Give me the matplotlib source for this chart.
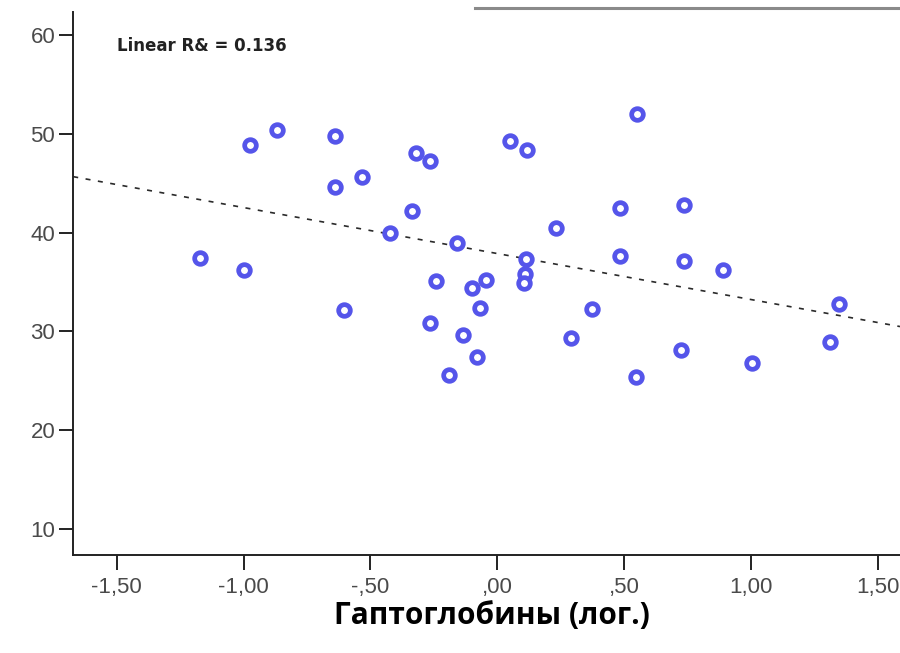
import numpy as np
import matplotlib
matplotlib.use("Agg")
import matplotlib.pyplot as plt
from matplotlib.lines import Line2D
from matplotlib.ticker import FuncFormatter

# log haptoglobin (x) vs. outcome (y)
hp_log = [-1.171, -0.998, -0.974, -0.869, -0.639, -0.639, -0.534, -0.603,
          -0.321, -0.267, -0.336, -0.421, -0.159, -0.242, -0.045, -0.101,
          -0.068, -0.265, -0.134, -0.079, -0.190, 0.050, 0.116, 0.113,
          0.109, 0.106, 0.230, 0.549, 0.483, 0.736, 0.483, 0.736,
          0.890, 0.373, 0.290, 0.724, 0.545, 1.005, 1.311, 1.348]
values = [37.46, 36.26, 48.87, 50.38, 49.81, 44.62, 45.66, 32.17,
          48.03, 47.28, 42.21, 39.96, 38.98, 35.07, 35.20, 34.42,
          32.40, 30.88, 29.64, 27.38, 25.59, 49.27, 48.36, 37.30,
          35.78, 34.87, 40.49, 51.97, 42.46, 42.79, 37.66, 37.16,
          36.21, 32.24, 29.30, 28.12, 25.42, 26.77, 28.90, 32.74]

x_ticks = [-1.5, -1.0, -0.5, 0.0, 0.5, 1.0, 1.5]
y_ticks = [10, 20, 30, 40, 50, 60]
r2_label = "Linear R& = 0.136"
x_title = "Гаптоглобины (лог.)"

x = np.array(hp_log)
y = np.array(values)

fig = plt.figure(figsize=(9, 6.53), dpi=100)
ax = fig.add_axes([0.0814, 0.150, 0.9186, 0.8316])

ax.plot(x, y, 'o', ms=8.4, mew=3.4, mfc='white', mec='#5555ea', zorder=3)

# least squares line over the whole axis
xmin, xmax = -1.671, 1.587
slope, icpt = np.polyfit(x, y, 1)
xx = np.array([xmin, xmax])
ax.plot(xx, icpt + slope * xx, color='#2a2a2a', lw=1.2, dashes=(3, 4.5), zorder=2)

ax.set_xlim(xmin, xmax)
ax.set_ylim(7.37, 62.33)

for s in ['top', 'right']:
    ax.spines[s].set_visible(False)
for s in ['left', 'bottom']:
    ax.spines[s].set_linewidth(1.4)
    ax.spines[s].set_color('#222222')

def comma(v, pos):
    s = '%.2f' % v
    s = s.replace('0.', '.') if abs(v) < 1 else s
    return s.replace('.', ',')

ax.set_xticks(x_ticks)
ax.set_yticks(y_ticks)
ax.xaxis.set_major_formatter(FuncFormatter(comma))
ax.tick_params(axis='x', direction='out', length=11, width=1.4, pad=5,
               labelsize=16, labelcolor='#4a4a4a', color='#222222')
ax.tick_params(axis='y', direction='out', length=10, width=1.4, pad=3,
               labelsize=16, labelcolor='#4a4a4a', color='#222222')
for lab in ax.get_xticklabels() + ax.get_yticklabels():
    lab.set_family('Liberation Sans')

ax.text(0.053, 0.937, r2_label, transform=ax.transAxes, fontsize=12,
        fontweight='bold', color='#222222', va='center', ha='left',
        family='DejaVu Sans')

fig.text(492 / 900, 1 - 616 / 653, x_title, ha='center', va='center',
         fontsize=21.5, fontweight='bold', family='Open Sans')

# grey rule at the top edge (frame of the text above)
fig.add_artist(Line2D([475 / 900, 1.0], [1 - 8 / 653, 1 - 8 / 653],
                      color='#8a8a8a', lw=2.2))

fig.savefig('out.png', dpi=100)
